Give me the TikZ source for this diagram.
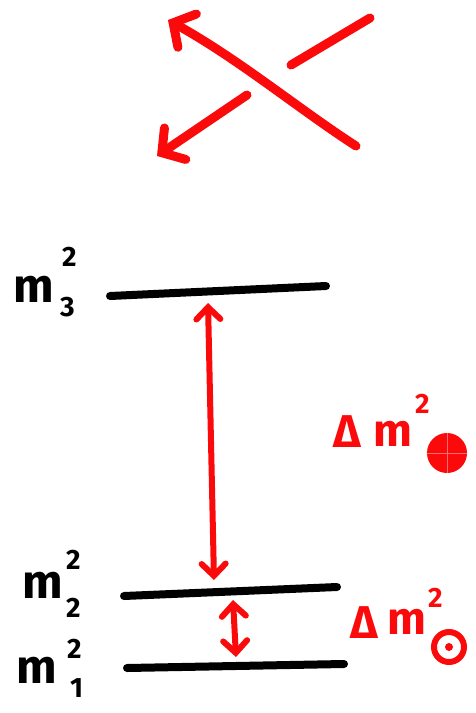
\documentclass[tikz,border=0pt]{standalone}
\usepackage{fontspec}
\setmainfont{Fira Sans}
\usetikzlibrary{arrows.meta}
\definecolor{hred}{RGB}{250,10,10}
\tikzset{
  redline/.style={draw=hred, line width=9pt, line cap=round, line join=round},
  barb/.style={-{Straight Barb[length=16pt, width=38pt, line cap=round]}},
  vbarb/.style={{Straight Barb[length=12pt, width=24pt, line cap=round]}-{Straight Barb[length=12pt, width=24pt, line cap=round]}},
  level/.style={draw=black, line width=8pt, line cap=round},
  mlab/.style={inner sep=0pt, font=\fontsize{48}{48}\bfseries\selectfont, text=black},
  idx/.style={inner sep=0pt, font=\fontsize{28}{28}\bfseries\selectfont, text=black},
  rlab/.style={inner sep=0pt, font=\fontsize{46}{46}\bfseries\selectfont, text=hred},
  ridx/.style={inner sep=0pt, font=\fontsize{28}{28}\bfseries\selectfont, text=hred},
}
\begin{document}
\begin{tikzpicture}[x=1pt, y=-1pt]
\useasboundingbox (0,0) rectangle (475,713);
% crossing arrows
\coordinate (a1s) at (356,146);
\coordinate (a1e) at (168,20);
\coordinate (s1a) at (370,18);
\coordinate (s1b) at (291,65);
\coordinate (a2s) at (247,95);
\coordinate (a2e) at (157,156);
\draw[redline, barb] (a1s) .. controls (300,110) and (240,60) .. (a1e);
\draw[redline] (s1a) -- (s1b);
\draw[redline, barb] (a2s) -- (a2e);
% levels
\coordinate (l3a) at (110,296);
\coordinate (l3b) at (326,286);
\coordinate (l2a) at (124,596);
\coordinate (l2b) at (337,587);
\coordinate (l1a) at (127,668);
\coordinate (l1b) at (344,664);
\draw[level] (l3a) -- (l3b);
\draw[level] (l2a) -- (l2b);
\draw[level] (l1a) -- (l1b);
% vertical arrows
\coordinate (v1a) at (208,303);
\coordinate (v1b) at (214,580);
\coordinate (v2a) at (233,600);
\coordinate (v2b) at (236,657);
\draw[redline, line width=6pt, vbarb] (v1a) -- (v1b);
\draw[redline, line width=6pt, vbarb] (v2a) -- (v2b);
% left labels
\node[mlab, anchor=base west] (m3) at (13,302) {m};
\node[idx, anchor=base west] (m3sup) at (62,266) {2};
\node[idx, anchor=base west] (m3sub) at (60,316) {3};
\node[mlab, anchor=base west] (m2) at (22,598) {m};
\node[idx, anchor=base west] (m2sup) at (66,569) {2};
\node[idx, anchor=base west] (m2sub) at (66,617) {2};
\node[mlab, anchor=base west] (m1) at (16,683) {m};
\node[idx, anchor=base west] (m1sup) at (67,658) {2};
\node[idx, anchor=base west] (m1sub) at (70,697) {1};
% right labels
\node[rlab, anchor=base west] (d1) at (333,447) {Δ};
\node[rlab, anchor=base west] (dm1) at (373,446) {m};
\node[ridx, anchor=base west] (dm1sup) at (415,413) {2};
\node[circle, fill=hred, minimum size=40pt, inner sep=0pt] (atm) at (447,453) {};
\draw[white, line width=0.8pt, opacity=0.4] (atm.north) -- (atm.south) (atm.west) -- (atm.east);
\node[rlab, anchor=base west] (d2) at (350,638) {Δ};
\node[rlab, anchor=base west] (dm2) at (387,634) {m};
\node[ridx, anchor=base west] (dm2sup) at (428,607) {2};
\node[circle, draw=hred, line width=6pt, minimum size=30pt, inner sep=0pt] (sol) at (449,647) {};
\fill[hred] (sol.center) circle (4pt);
\end{tikzpicture}
\end{document}
